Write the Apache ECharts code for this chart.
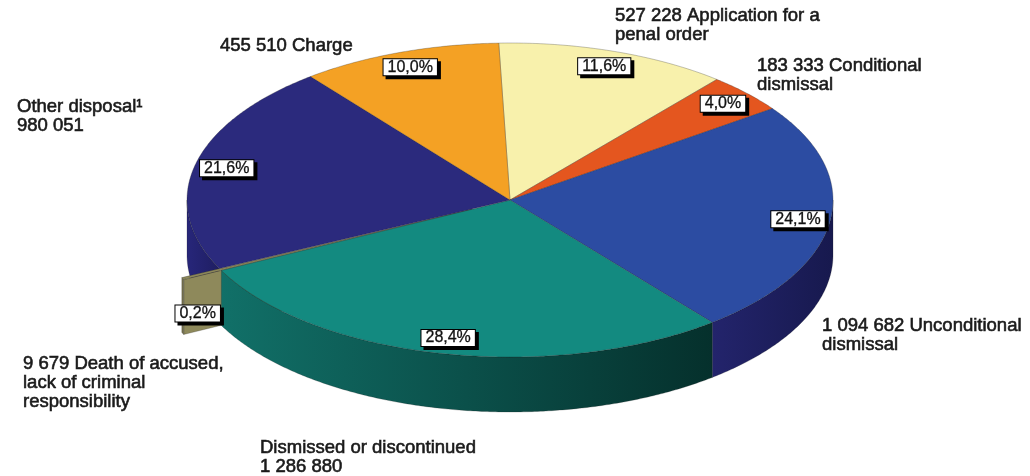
<!DOCTYPE html>
<html><head><meta charset="utf-8">
<script src="https://cdn.jsdelivr.net/npm/echarts@6/dist/echarts.min.js"></script>
<style>html,body{margin:0;padding:0;background:#fff}#c{width:1030px;height:476px}</style>
</head><body><div id="c"></div>
<script>
// ---- data (clockwise from 12 o'clock) ----
const categories = ['Application for a\npenal order', 'Conditional\ndismissal', 'Unconditional\ndismissal', 'Dismissed or discontinued', 'Death of accused,\nlack of criminal\nresponsibility', 'Other disposal\u00b9', 'Charge'];
const values = [527228, 183333, 1094682, 1286880, 9679, 980051, 455510];
const valueFirst = [true, true, true, false, true, false, true];
const exploded = [false, false, false, false, true, false, false];

// ---- styles ----
const topColors = ['#f8f1ac', '#e4561f', '#2c4ca2', '#138a80', '#8e895b', '#2b2a7d', '#f4a124'];
const wallColors = [['#c9c38a', '#b8b27a'], ['#b8431a', '#9a3814'], ['#23246c', '#17194e'], ['#117068', '#05302c'], ['#7a7550', '#6e6a48'], ['#27267a', '#1f1e62'], ['#c98318', '#b07214']];
const outerLabelPos = [[615, 6], [757, 56], [822, 316], [260, 438], [23, 354], [17, 97], [220, 36]];

const geo = {cx: 510, cy: 200, rx: 323, ry: 157, depth: 55, explode: 0.13, start: 92};
const total = values.reduce((a, b) => a + b, 0);
const D2R = Math.PI / 180;
function fmt(v) { return String(v).replace(/\B(?=(\d{3})+(?!\d))/g, ' '); }
function pt(th, f, o) { return [geo.cx + o[0] + geo.rx * f * Math.cos(th), geo.cy + o[1] - geo.ry * f * Math.sin(th)]; }
function arc(a0, a1, o, dy) {
  const n = Math.max(2, Math.ceil(Math.abs(a1 - a0) / (0.5 * D2R)));
  const pts = [];
  for (let k = 0; k <= n; k++) { const t = a0 + (a1 - a0) * k / n; const p = pt(t, 1, o); pts.push([p[0], p[1] + dy]); }
  return pts;
}
// angular ranges
const ranges = [];
(function () { let acc = 0; values.forEach(v => { const hi = (geo.start - acc / total * 360) * D2R; acc += v; const lo = (geo.start - acc / total * 360) * D2R; ranges.push([lo, hi]); }); })();
const exIdx = exploded.indexOf(true);

function renderItem(params, api) {
  const i = params.dataIndex;
  const v = api.value(0);
  const [lo, hi] = ranges[i];
  const mid = (lo + hi) / 2;
  let o = [0, 0];
  if (exploded[i]) o = [geo.explode * geo.rx * Math.cos(mid), -geo.explode * geo.ry * Math.sin(mid)];
  const c = [geo.cx + o[0], geo.cy + o[1]];
  const children = [];
  const edge = 'rgba(30,30,30,0.45)';
  // front wall
  const a = Math.max(lo, -Math.PI), b = Math.min(hi, 0);
  let wallZ = 5;
  if (exIdx >= 0 && !exploded[i] && hi <= ranges[exIdx][0] + 1e-6) wallZ = 1;
  if (exploded[i]) wallZ = 3;
  if (a < b) {
    const pts = arc(a, b, o, 0).concat(arc(b, a, o, geo.depth));
    children.push({type: 'polygon', z2: wallZ, shape: {points: pts},
      style: {fill: {type: 'linear', x: 0, y: 0, x2: 1, y2: 0, colorStops: [{offset: 0, color: wallColors[i][0]}, {offset: 1, color: wallColors[i][1]}]}, stroke: edge, lineWidth: 0.5}});
  }
  // radial faces of exploded slice
  if (exploded[i]) {
    const faces = [];
    if (Math.cos(hi) < 0) faces.push(hi);
    if (Math.cos(lo) > 0) faces.push(lo);
    faces.forEach(th => {
      const r = pt(th, 1, o);
      children.push({type: 'polygon', z2: 2, shape: {points: [c, r, [r[0], r[1] + geo.depth], [c[0], c[1] + geo.depth]]},
        style: {fill: topColors[i], stroke: edge, lineWidth: 0.5}});
    });
  }
  // top
  children.push({type: 'polygon', z2: exploded[i] ? 4 : 6, shape: {points: [c].concat(arc(hi, lo, o, 0))},
    style: {fill: topColors[i], stroke: edge, lineWidth: 0.6}});
  // percentage label
  const pct = (v / total * 100).toFixed(1).replace('.', ',') + '%';
  let lp;
  if (exploded[i]) { const r = pt(hi, 1, o); lp = [r[0] + 14, r[1] + 34]; }
  else lp = pt(mid, 0.9, [0, 0]);
  children.push({type: 'text', z2: 8, style: {text: pct, x: lp[0], y: lp[1], align: 'center', verticalAlign: 'middle',
    fill: '#111', stroke: '#111', lineWidth: 0.3, font: '16px "Liberation Sans", Arial, sans-serif', lineHeight: 15,
    backgroundColor: '#fff', borderColor: '#000', borderWidth: 1, padding: [1, 4, 0, 4],
    shadowColor: '#000', shadowOffsetX: 3, shadowOffsetY: 3, shadowBlur: 0}});
  // outer label
  const txt = valueFirst[i] ? fmt(v) + ' ' + categories[i] : categories[i] + '\n' + fmt(v);
  const op = outerLabelPos[i];
  children.push({type: 'text', z2: 9, style: {text: txt, x: op[0], y: op[1], align: 'left', verticalAlign: 'top',
    fill: '#1a1a1a', stroke: '#1a1a1a', lineWidth: 0.6, font: '18.5px "Liberation Sans", Arial, sans-serif', lineHeight: 19}});
  return {type: 'group', children: children};
}

const chart = echarts.init(document.getElementById('c'), null, {renderer: 'canvas'});
chart.setOption({
  animation: false,
  backgroundColor: '#ffffff',
  series: [{
    type: 'custom',
    coordinateSystem: 'none',
    renderItem: renderItem,
    data: values.map((v, i) => ({name: categories[i], value: [v, i]}))
  }]
});
</script></body></html>
